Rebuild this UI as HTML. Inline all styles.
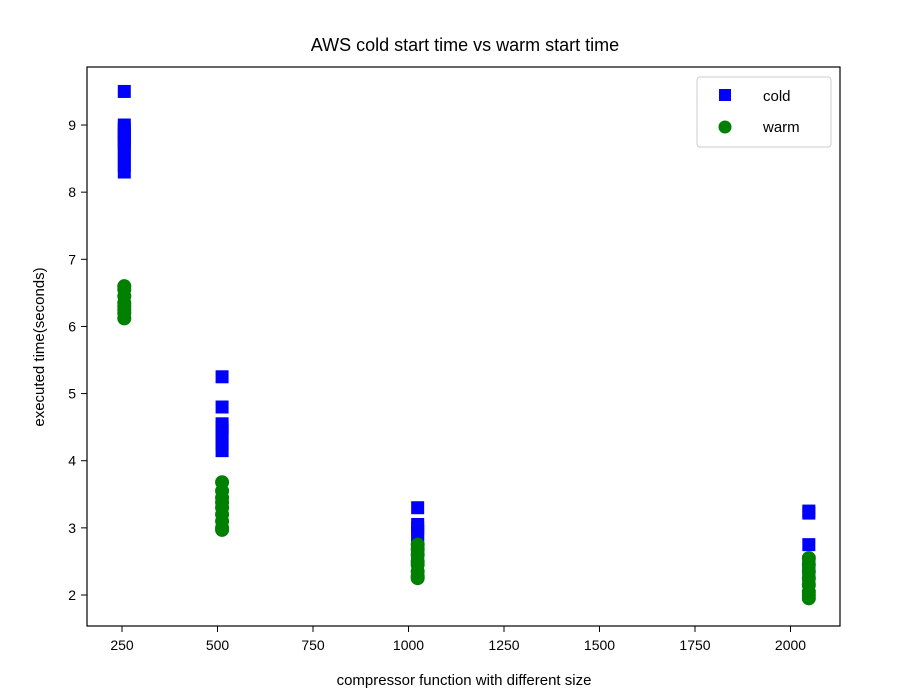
<!DOCTYPE html>
<html><head><meta charset="utf-8"><style>
body{margin:0;background:#fff;}
svg{display:block;font-family:"Liberation Sans","DejaVu Sans",sans-serif;}
</style></head><body>
<svg id="chart" width="900" height="696">
<text x="465" y="51" text-anchor="middle" font-size="18" fill="#000">AWS cold start time vs warm start time</text>
<g id="plot"></g>
<rect x="87" y="67" width="753" height="559" fill="none" stroke="#000" stroke-width="1.2"/>
<text x="464" y="685" text-anchor="middle" font-size="15">compressor function with different size</text>
<text transform="translate(44,347) rotate(-90)" text-anchor="middle" font-size="15">executed time(seconds)</text>
<g>
<rect x="697" y="77" width="134" height="70" rx="3" fill="#fff" stroke="#ccc"/>
<rect x="719" y="89" width="12" height="12" fill="#0000ff"/>
<text x="763" y="101" font-size="15">cold</text>
<circle cx="725" cy="127" r="6.5" fill="#008000"/>
<text x="763" y="132" font-size="15">warm</text>
</g>
</svg>
<script>
const xTicks=[250,500,750,1000,1250,1500,1750,2000];
const yTicks=[2,3,4,5,6,7,8,9];
const coldX=[256,256,256,256,256,256,256,256,256,256,256,256,512,512,512,512,512,512,512,512,1024,1024,1024,1024,1024,1024,1024,1024,2048,2048,2048,2048,2048,2048,2048,2048];
const coldY=[9.5,9.0,8.95,8.85,8.8,8.7,8.6,8.5,8.4,8.3,8.9,8.75,5.25,4.8,4.55,4.45,4.35,4.25,4.15,4.5,3.3,3.05,2.95,2.85,2.75,2.65,2.55,3.0,3.25,3.22,2.75,2.5,2.4,2.3,2.2,2.45];
const warmX=[256,256,256,256,256,256,256,256,512,512,512,512,512,512,512,512,512,1024,1024,1024,1024,1024,1024,1024,1024,2048,2048,2048,2048,2048,2048,2048,2048];
const warmY=[6.6,6.55,6.45,6.35,6.3,6.25,6.2,6.12,3.68,3.55,3.45,3.38,3.3,3.2,3.1,3.0,2.97,2.75,2.68,2.6,2.5,2.45,2.35,2.28,2.25,2.55,2.45,2.35,2.25,2.15,2.05,2.0,1.95];
const ns="http://www.w3.org/2000/svg";
const g=document.getElementById('plot');
const xs=v=>122+(v-250)*0.382;
const ys=v=>595-(v-2)*67.14;
function mk(t,a){const e=document.createElementNS(ns,t);for(const k in a)e.setAttribute(k,a[k]);g.appendChild(e);return e;}
xTicks.forEach(v=>{
 const l=mk('line',{x1:xs(v),x2:xs(v),y1:626,y2:632,stroke:'#000'});
 
 
 const t=mk('text',{x:xs(v),y:650,'text-anchor':'middle','font-size':14});
 t.textContent=v;
 
 
});
yTicks.forEach(v=>{
 const l=mk('line',{x1:81,x2:87,y1:ys(v),y2:ys(v),stroke:'#000'});
 
 
 const t=mk('text',{x:76,y:ys(v)+5,'text-anchor':'end','font-size':14});
 t.textContent=v;
 
 
});
coldX.forEach((x,i)=>{
 const r=mk('rect',{x:xs(x)-6.5,y:ys(coldY[i])-6.5,width:13,height:13,fill:'#0000ff'});
 
 
});
warmX.forEach((x,i)=>{
 const c=mk('circle',{cx:xs(x),cy:ys(warmY[i]),r:7,fill:'#008000'});
 
 
});
</script>
</body></html>
